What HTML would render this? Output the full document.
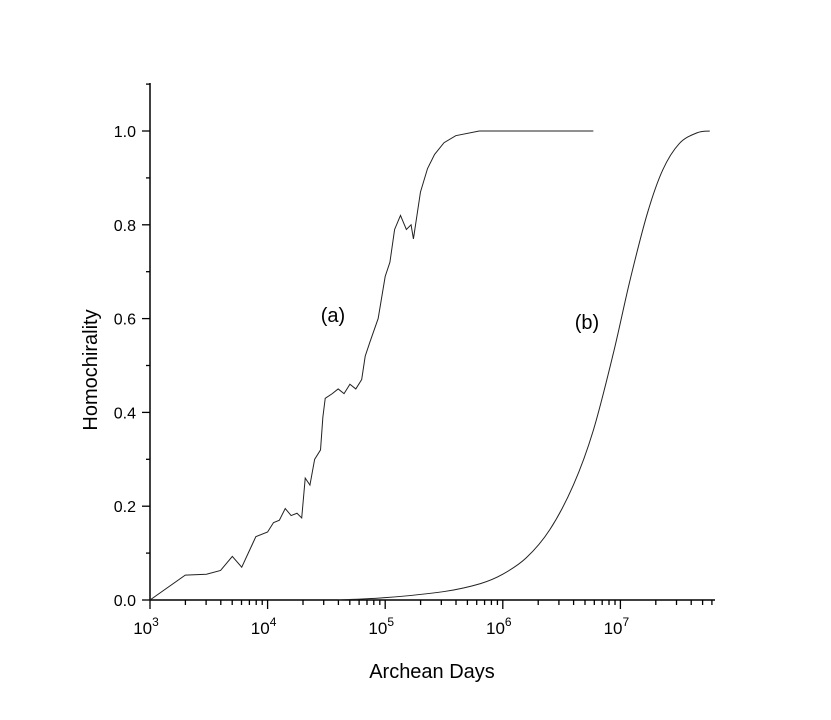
<!DOCTYPE html>
<html><head><meta charset="utf-8"><style>
body{margin:0;background:#fff;}
svg{display:block;font-family:"Liberation Sans",Arial,sans-serif;}
</style></head><body>
<svg id="chart" width="831" height="720" viewBox="0 0 831 720" xmlns="http://www.w3.org/2000/svg">
<g id="axes"></g><g id="series"></g>
<text x="0" y="0" font-size="20" text-anchor="middle" transform="translate(97,370) rotate(-90)">Homochirality</text>
<text x="432" y="678" font-size="20" text-anchor="middle">Archean Days</text>
<text x="333" y="322" font-size="20" text-anchor="middle">(a)</text>
<text x="587" y="329" font-size="20" text-anchor="middle">(b)</text>
</svg>
<script>
const seriesALogX=[3,3.3,3.48,3.6,3.7,3.78,3.9,4.0,4.05,4.1,4.15,4.2,4.25,4.29,4.32,4.36,4.4,4.45,4.47,4.49,4.55,4.6,4.65,4.7,4.75,4.8,4.83,4.87,4.94,5.0,5.04,5.08,5.13,5.18,5.22,5.24,5.3,5.36,5.42,5.5,5.6,5.8,6.77];
const seriesAY=[0,0.053,0.055,0.063,0.093,0.07,0.135,0.145,0.165,0.17,0.195,0.18,0.185,0.175,0.26,0.245,0.3,0.32,0.39,0.43,0.44,0.45,0.44,0.46,0.45,0.47,0.52,0.55,0.6,0.69,0.72,0.79,0.82,0.79,0.8,0.77,0.87,0.92,0.95,0.975,0.99,1.0,1.0];
const seriesBLogX=[4.6,5,5.5,5.81,6.0,6.2,6.4,6.6,6.77,6.94,7.08,7.23,7.36,7.5,7.65,7.76];
const seriesBY=[0,0.005,0.018,0.035,0.055,0.09,0.15,0.245,0.362,0.526,0.68,0.825,0.917,0.973,0.996,1.0];
const yTicks=[0,0.2,0.4,0.6,0.8,1.0];
const yTickLabels=["0.0","0.2","0.4","0.6","0.8","1.0"];
const xDecades=[3,4,5,6,7];
const X0=150,DEC=117.6,Y0=600,YU=469,XEND=715,YTOP=83;
const xs=l=>X0+(l-3)*DEC, ys=v=>Y0-v*YU;
const NS="http://www.w3.org/2000/svg";
function mk(tag,attrs,parent,text){const e=document.createElementNS(NS,tag);for(const k in attrs)e.setAttribute(k,attrs[k]);if(text!==undefined)e.textContent=text;parent.appendChild(e);return e;}
function smoothPath(px,py){let d='M'+px[0]+','+py[0];for(let i=0;i<px.length-1;i++){const i0=Math.max(0,i-1),i2=i+1,i3=Math.min(px.length-1,i+2);
const c1x=px[i]+(px[i2]-px[i0])/6,c1y=py[i]+(py[i2]-py[i0])/6,c2x=px[i2]-(px[i3]-px[i])/6,c2y=py[i2]-(py[i3]-py[i])/6;
d+=' C'+c1x+','+c1y+' '+c2x+','+c2y+' '+px[i2]+','+py[i2];}return d;}
const ax=document.getElementById('axes');
let e=mk('line',{x1:X0,y1:YTOP,x2:X0,y2:Y0,stroke:'#000','stroke-width':1.5},ax);


e=mk('line',{x1:X0,y1:Y0,x2:XEND,y2:Y0,stroke:'#000','stroke-width':1.5},ax);


for(let v=0;v<=11;v++){const y=ys(v/10);mk('line',{x1:X0-(v%2?4:8),y1:y,x2:X0,y2:y,stroke:'#000','stroke-width':1.3},ax);}
yTicks.forEach((v,i)=>{const t=mk('text',{x:X0-14,y:ys(v)+6,'font-size':16,'text-anchor':'end'},ax,yTickLabels[i]);

});
for(let d=3;d<=7;d++){for(let m=1;m<=9;m++){const l=d+Math.log10(m);const x=xs(l);if(x>XEND)break;mk('line',{x1:x,y1:Y0,x2:x,y2:Y0+(m===1?9:5),stroke:'#000','stroke-width':1.3},ax);}}
xDecades.forEach(d=>{const t=mk('text',{x:xs(d)-4,y:Y0+34,'font-size':17,'text-anchor':'middle'},ax);


mk('tspan',{},t,'10');mk('tspan',{dy:-8,'font-size':12},t,String(d));});
const sg=document.getElementById('series');
let p=mk('polyline',{points:seriesALogX.map((l,i)=>xs(l)+','+ys(seriesAY[i])).join(' '),fill:'none',stroke:'#222','stroke-width':1},sg);


p=mk('path',{d:smoothPath(seriesBLogX.map(xs),seriesBY.map(ys)),fill:'none',stroke:'#222','stroke-width':1},sg);


</script>
</body></html>
